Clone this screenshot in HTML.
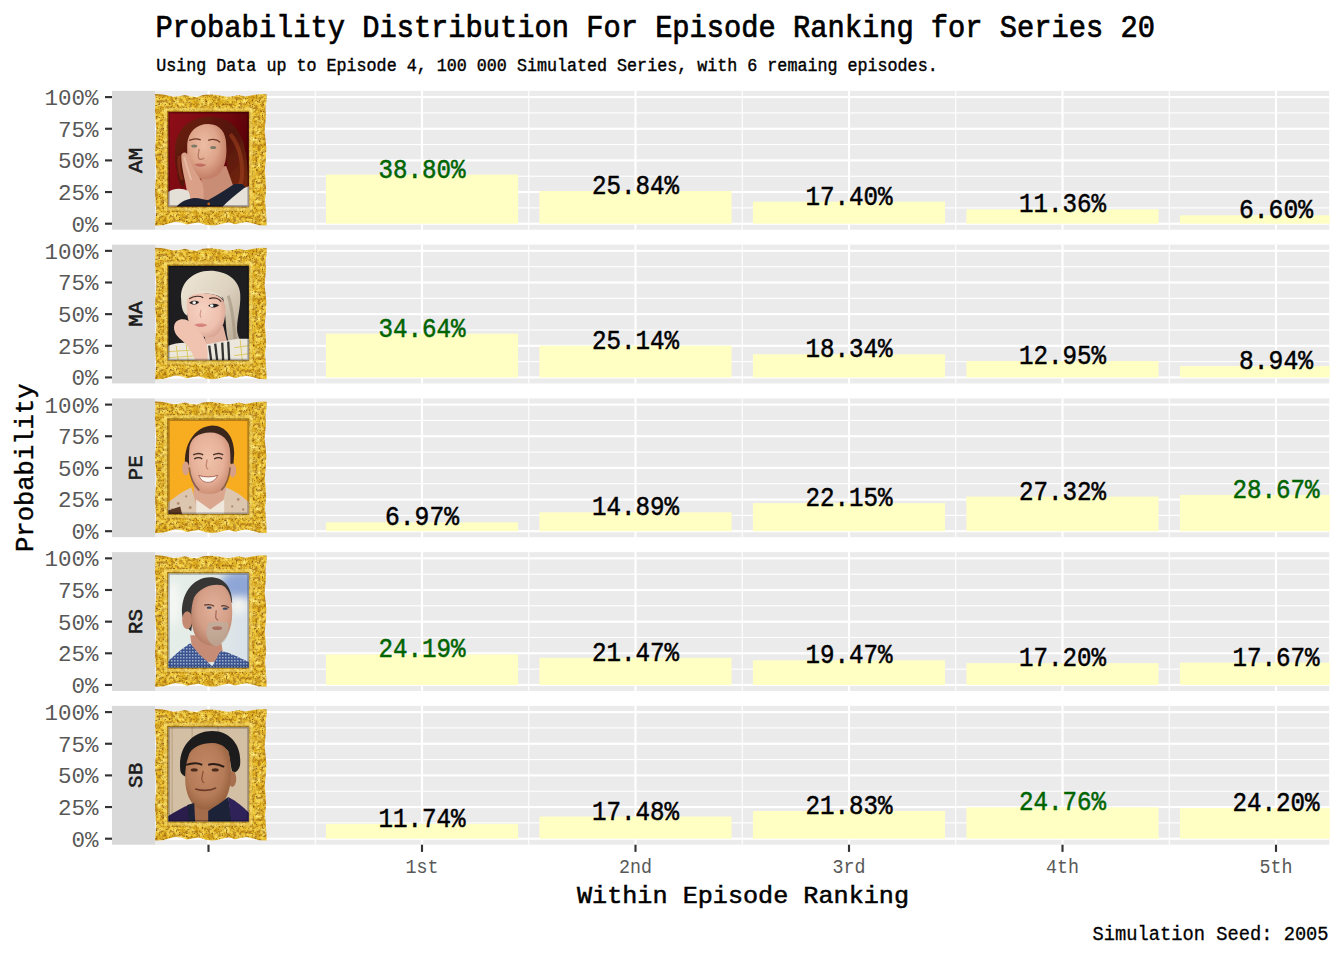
<!DOCTYPE html><html><head><meta charset="utf-8"><title>Probability Distribution For Episode Ranking for Series 20</title>
<style>html,body{margin:0;padding:0;background:#fff;overflow:hidden;}svg{display:block;} text{font-family:"Liberation Mono",monospace;}</style></head><body>
<svg width="1344" height="960" viewBox="0 0 1344 960">
<defs>
<filter id="bl05" x="-30%" y="-30%" width="160%" height="160%"><feGaussianBlur stdDeviation="0.45"/></filter>
<filter id="bl1" x="-30%" y="-30%" width="160%" height="160%"><feGaussianBlur stdDeviation="0.7"/></filter>
<filter id="bl2" x="-30%" y="-30%" width="160%" height="160%"><feGaussianBlur stdDeviation="1.5"/></filter>
<filter id="bl4" x="-50%" y="-50%" width="200%" height="200%"><feGaussianBlur stdDeviation="4"/></filter>
<filter id="goldtex" x="0" y="0" width="1" height="1" color-interpolation-filters="sRGB">
<feTurbulence type="fractalNoise" baseFrequency="0.16" numOctaves="3" seed="11" result="n1"/>
<feColorMatrix in="n1" type="matrix" values="1 0 0 0 0  1 0 0 0 0  1 0 0 0 0  0 0 0 0 1" result="g1"/>
<feComponentTransfer in="g1" result="base">
<feFuncR type="table" tableValues="0.78 0.87 0.93 0.97 1.0 1.0"/>
<feFuncG type="table" tableValues="0.56 0.67 0.76 0.84 0.91 0.96"/>
<feFuncB type="table" tableValues="0.07 0.11 0.18 0.3 0.45 0.62"/>
</feComponentTransfer>
<feTurbulence type="fractalNoise" baseFrequency="0.32" numOctaves="2" seed="5" result="n2"/>
<feColorMatrix in="n2" type="matrix" values="0 0 0 0 0.66  0 0 0 0 0.44  0 0 0 0 0.08  1 0 0 0 0" result="a2"/>
<feComponentTransfer in="a2" result="specks">
<feFuncA type="table" tableValues="0 0 0 0 0.2 0.55 0.8 0.9 0.95"/>
</feComponentTransfer>
<feTurbulence type="fractalNoise" baseFrequency="0.7" numOctaves="1" seed="9" result="n3"/>
<feColorMatrix in="n3" type="matrix" values="0 0 0 0 0.38  0 0 0 0 0.22  0 0 0 0 0.03  1 0 0 0 0" result="a3"/>
<feComponentTransfer in="a3" result="dots">
<feFuncA type="table" tableValues="0 0 0 0 0 0.1 0.6 0.9 1"/>
</feComponentTransfer>
<feMerge result="m"><feMergeNode in="base"/><feMergeNode in="specks"/><feMergeNode in="dots"/></feMerge>
<feComposite in="m" in2="SourceGraphic" operator="in"/>
</filter>
<clipPath id="pc"><rect x="0" y="0" width="80.6" height="94.7"/></clipPath>
</defs>
<rect x="0" y="0" width="1344" height="960" fill="#ffffff"/>
<text x="155.4" y="36.9" font-size="30.5" fill="#000" stroke="#000" stroke-width="0.7" textLength="999.5" lengthAdjust="spacingAndGlyphs">Probability Distribution For Episode Ranking for Series 20</text>
<text x="156.2" y="71.4" font-size="17.5" fill="#000" stroke="#000" stroke-width="0.4" textLength="781.5" lengthAdjust="spacingAndGlyphs">Using Data up to Episode 4, 100 000 Simulated Series, with 6 remaing episodes.</text>
<rect x="155.0" y="90.90" width="1174.20" height="138.8" fill="#ebebeb"/>
<rect x="112.0" y="90.90" width="43.00" height="138.8" fill="#d9d9d9"/>
<rect x="155.0" y="207.33" width="1174.20" height="1.1" fill="#fff"/>
<rect x="155.0" y="175.68" width="1174.20" height="1.1" fill="#fff"/>
<rect x="155.0" y="144.02" width="1174.20" height="1.1" fill="#fff"/>
<rect x="155.0" y="112.38" width="1174.20" height="1.1" fill="#fff"/>
<rect x="314.70" y="90.90" width="1.1" height="138.8" fill="#fff"/>
<rect x="528.20" y="90.90" width="1.1" height="138.8" fill="#fff"/>
<rect x="741.70" y="90.90" width="1.1" height="138.8" fill="#fff"/>
<rect x="955.20" y="90.90" width="1.1" height="138.8" fill="#fff"/>
<rect x="1168.70" y="90.90" width="1.1" height="138.8" fill="#fff"/>
<rect x="155.0" y="222.63" width="1174.20" height="2.14" fill="#fff"/>
<rect x="155.0" y="190.98" width="1174.20" height="2.14" fill="#fff"/>
<rect x="155.0" y="159.33" width="1174.20" height="2.14" fill="#fff"/>
<rect x="155.0" y="127.68" width="1174.20" height="2.14" fill="#fff"/>
<rect x="155.0" y="96.03" width="1174.20" height="2.14" fill="#fff"/>
<rect x="207.43" y="90.90" width="2.14" height="138.8" fill="#fff"/>
<rect x="420.93" y="90.90" width="2.14" height="138.8" fill="#fff"/>
<rect x="634.43" y="90.90" width="2.14" height="138.8" fill="#fff"/>
<rect x="847.93" y="90.90" width="2.14" height="138.8" fill="#fff"/>
<rect x="1061.43" y="90.90" width="2.14" height="138.8" fill="#fff"/>
<rect x="1274.93" y="90.90" width="2.14" height="138.8" fill="#fff"/>
<rect x="325.93" y="174.58" width="192.15" height="49.12" fill="#ffffc4"/>
<rect x="539.42" y="190.99" width="192.15" height="32.71" fill="#ffffc4"/>
<rect x="752.92" y="201.67" width="192.15" height="22.03" fill="#ffffc4"/>
<rect x="966.42" y="209.32" width="192.15" height="14.38" fill="#ffffc4"/>
<rect x="1179.92" y="215.34" width="149.88" height="8.36" fill="#ffffc4"/>
<rect x="105" y="222.63" width="7" height="2.14" fill="#333"/>
<text x="98.6" y="231.60" font-size="22.5" fill="#585858" text-anchor="end">0%</text>
<rect x="105" y="190.98" width="7" height="2.14" fill="#333"/>
<text x="98.6" y="199.95" font-size="22.5" fill="#585858" text-anchor="end">25%</text>
<rect x="105" y="159.33" width="7" height="2.14" fill="#333"/>
<text x="98.6" y="168.30" font-size="22.5" fill="#585858" text-anchor="end">50%</text>
<rect x="105" y="127.68" width="7" height="2.14" fill="#333"/>
<text x="98.6" y="136.65" font-size="22.5" fill="#585858" text-anchor="end">75%</text>
<rect x="105" y="96.03" width="7" height="2.14" fill="#333"/>
<text x="98.6" y="105.00" font-size="22.5" fill="#585858" text-anchor="end">100%</text>
<text x="0" y="0" transform="translate(142.2 160.30) rotate(-90)" font-size="21" fill="#1a1a1a" stroke="#1a1a1a" stroke-width="0.55" text-anchor="middle">AM</text>
<text x="378.50" y="177.58" font-size="27.5" fill="#006400" stroke="#006400" stroke-width="0.5" textLength="87.0" lengthAdjust="spacingAndGlyphs">38.80%</text>
<text x="592.00" y="193.99" font-size="27.5" fill="#000" stroke="#000" stroke-width="0.5" textLength="87.0" lengthAdjust="spacingAndGlyphs">25.84%</text>
<text x="805.50" y="204.67" font-size="27.5" fill="#000" stroke="#000" stroke-width="0.5" textLength="87.0" lengthAdjust="spacingAndGlyphs">17.40%</text>
<text x="1019.00" y="212.32" font-size="27.5" fill="#000" stroke="#000" stroke-width="0.5" textLength="87.0" lengthAdjust="spacingAndGlyphs">11.36%</text>
<text x="1239.00" y="218.34" font-size="27.5" fill="#000" stroke="#000" stroke-width="0.5" textLength="74.0" lengthAdjust="spacingAndGlyphs">6.60%</text>
<rect x="155.0" y="244.65" width="1174.20" height="138.8" fill="#ebebeb"/>
<rect x="112.0" y="244.65" width="43.00" height="138.8" fill="#d9d9d9"/>
<rect x="155.0" y="361.08" width="1174.20" height="1.1" fill="#fff"/>
<rect x="155.0" y="329.43" width="1174.20" height="1.1" fill="#fff"/>
<rect x="155.0" y="297.78" width="1174.20" height="1.1" fill="#fff"/>
<rect x="155.0" y="266.13" width="1174.20" height="1.1" fill="#fff"/>
<rect x="314.70" y="244.65" width="1.1" height="138.8" fill="#fff"/>
<rect x="528.20" y="244.65" width="1.1" height="138.8" fill="#fff"/>
<rect x="741.70" y="244.65" width="1.1" height="138.8" fill="#fff"/>
<rect x="955.20" y="244.65" width="1.1" height="138.8" fill="#fff"/>
<rect x="1168.70" y="244.65" width="1.1" height="138.8" fill="#fff"/>
<rect x="155.0" y="376.38" width="1174.20" height="2.14" fill="#fff"/>
<rect x="155.0" y="344.73" width="1174.20" height="2.14" fill="#fff"/>
<rect x="155.0" y="313.08" width="1174.20" height="2.14" fill="#fff"/>
<rect x="155.0" y="281.43" width="1174.20" height="2.14" fill="#fff"/>
<rect x="155.0" y="249.78" width="1174.20" height="2.14" fill="#fff"/>
<rect x="207.43" y="244.65" width="2.14" height="138.8" fill="#fff"/>
<rect x="420.93" y="244.65" width="2.14" height="138.8" fill="#fff"/>
<rect x="634.43" y="244.65" width="2.14" height="138.8" fill="#fff"/>
<rect x="847.93" y="244.65" width="2.14" height="138.8" fill="#fff"/>
<rect x="1061.43" y="244.65" width="2.14" height="138.8" fill="#fff"/>
<rect x="1274.93" y="244.65" width="2.14" height="138.8" fill="#fff"/>
<rect x="325.93" y="333.60" width="192.15" height="43.85" fill="#ffffc4"/>
<rect x="539.42" y="345.62" width="192.15" height="31.83" fill="#ffffc4"/>
<rect x="752.92" y="354.23" width="192.15" height="23.22" fill="#ffffc4"/>
<rect x="966.42" y="361.06" width="192.15" height="16.39" fill="#ffffc4"/>
<rect x="1179.92" y="366.13" width="149.88" height="11.32" fill="#ffffc4"/>
<rect x="105" y="376.38" width="7" height="2.14" fill="#333"/>
<text x="98.6" y="385.35" font-size="22.5" fill="#585858" text-anchor="end">0%</text>
<rect x="105" y="344.73" width="7" height="2.14" fill="#333"/>
<text x="98.6" y="353.70" font-size="22.5" fill="#585858" text-anchor="end">25%</text>
<rect x="105" y="313.08" width="7" height="2.14" fill="#333"/>
<text x="98.6" y="322.05" font-size="22.5" fill="#585858" text-anchor="end">50%</text>
<rect x="105" y="281.43" width="7" height="2.14" fill="#333"/>
<text x="98.6" y="290.40" font-size="22.5" fill="#585858" text-anchor="end">75%</text>
<rect x="105" y="249.78" width="7" height="2.14" fill="#333"/>
<text x="98.6" y="258.75" font-size="22.5" fill="#585858" text-anchor="end">100%</text>
<text x="0" y="0" transform="translate(142.2 314.05) rotate(-90)" font-size="21" fill="#1a1a1a" stroke="#1a1a1a" stroke-width="0.55" text-anchor="middle">MA</text>
<text x="378.50" y="336.60" font-size="27.5" fill="#006400" stroke="#006400" stroke-width="0.5" textLength="87.0" lengthAdjust="spacingAndGlyphs">34.64%</text>
<text x="592.00" y="348.62" font-size="27.5" fill="#000" stroke="#000" stroke-width="0.5" textLength="87.0" lengthAdjust="spacingAndGlyphs">25.14%</text>
<text x="805.50" y="357.23" font-size="27.5" fill="#000" stroke="#000" stroke-width="0.5" textLength="87.0" lengthAdjust="spacingAndGlyphs">18.34%</text>
<text x="1019.00" y="364.06" font-size="27.5" fill="#000" stroke="#000" stroke-width="0.5" textLength="87.0" lengthAdjust="spacingAndGlyphs">12.95%</text>
<text x="1239.00" y="369.13" font-size="27.5" fill="#000" stroke="#000" stroke-width="0.5" textLength="74.0" lengthAdjust="spacingAndGlyphs">8.94%</text>
<rect x="155.0" y="398.40" width="1174.20" height="138.8" fill="#ebebeb"/>
<rect x="112.0" y="398.40" width="43.00" height="138.8" fill="#d9d9d9"/>
<rect x="155.0" y="514.83" width="1174.20" height="1.1" fill="#fff"/>
<rect x="155.0" y="483.18" width="1174.20" height="1.1" fill="#fff"/>
<rect x="155.0" y="451.53" width="1174.20" height="1.1" fill="#fff"/>
<rect x="155.0" y="419.88" width="1174.20" height="1.1" fill="#fff"/>
<rect x="314.70" y="398.40" width="1.1" height="138.8" fill="#fff"/>
<rect x="528.20" y="398.40" width="1.1" height="138.8" fill="#fff"/>
<rect x="741.70" y="398.40" width="1.1" height="138.8" fill="#fff"/>
<rect x="955.20" y="398.40" width="1.1" height="138.8" fill="#fff"/>
<rect x="1168.70" y="398.40" width="1.1" height="138.8" fill="#fff"/>
<rect x="155.0" y="530.13" width="1174.20" height="2.14" fill="#fff"/>
<rect x="155.0" y="498.48" width="1174.20" height="2.14" fill="#fff"/>
<rect x="155.0" y="466.83" width="1174.20" height="2.14" fill="#fff"/>
<rect x="155.0" y="435.18" width="1174.20" height="2.14" fill="#fff"/>
<rect x="155.0" y="403.53" width="1174.20" height="2.14" fill="#fff"/>
<rect x="207.43" y="398.40" width="2.14" height="138.8" fill="#fff"/>
<rect x="420.93" y="398.40" width="2.14" height="138.8" fill="#fff"/>
<rect x="634.43" y="398.40" width="2.14" height="138.8" fill="#fff"/>
<rect x="847.93" y="398.40" width="2.14" height="138.8" fill="#fff"/>
<rect x="1061.43" y="398.40" width="2.14" height="138.8" fill="#fff"/>
<rect x="1274.93" y="398.40" width="2.14" height="138.8" fill="#fff"/>
<rect x="325.93" y="522.38" width="192.15" height="8.82" fill="#ffffc4"/>
<rect x="539.42" y="512.35" width="192.15" height="18.85" fill="#ffffc4"/>
<rect x="752.92" y="503.16" width="192.15" height="28.04" fill="#ffffc4"/>
<rect x="966.42" y="496.61" width="192.15" height="34.59" fill="#ffffc4"/>
<rect x="1179.92" y="494.90" width="149.88" height="36.30" fill="#ffffc4"/>
<rect x="105" y="530.13" width="7" height="2.14" fill="#333"/>
<text x="98.6" y="539.10" font-size="22.5" fill="#585858" text-anchor="end">0%</text>
<rect x="105" y="498.48" width="7" height="2.14" fill="#333"/>
<text x="98.6" y="507.45" font-size="22.5" fill="#585858" text-anchor="end">25%</text>
<rect x="105" y="466.83" width="7" height="2.14" fill="#333"/>
<text x="98.6" y="475.80" font-size="22.5" fill="#585858" text-anchor="end">50%</text>
<rect x="105" y="435.18" width="7" height="2.14" fill="#333"/>
<text x="98.6" y="444.15" font-size="22.5" fill="#585858" text-anchor="end">75%</text>
<rect x="105" y="403.53" width="7" height="2.14" fill="#333"/>
<text x="98.6" y="412.50" font-size="22.5" fill="#585858" text-anchor="end">100%</text>
<text x="0" y="0" transform="translate(142.2 467.80) rotate(-90)" font-size="21" fill="#1a1a1a" stroke="#1a1a1a" stroke-width="0.55" text-anchor="middle">PE</text>
<text x="385.00" y="525.38" font-size="27.5" fill="#000" stroke="#000" stroke-width="0.5" textLength="74.0" lengthAdjust="spacingAndGlyphs">6.97%</text>
<text x="592.00" y="515.35" font-size="27.5" fill="#000" stroke="#000" stroke-width="0.5" textLength="87.0" lengthAdjust="spacingAndGlyphs">14.89%</text>
<text x="805.50" y="506.16" font-size="27.5" fill="#000" stroke="#000" stroke-width="0.5" textLength="87.0" lengthAdjust="spacingAndGlyphs">22.15%</text>
<text x="1019.00" y="499.61" font-size="27.5" fill="#000" stroke="#000" stroke-width="0.5" textLength="87.0" lengthAdjust="spacingAndGlyphs">27.32%</text>
<text x="1232.50" y="497.90" font-size="27.5" fill="#006400" stroke="#006400" stroke-width="0.5" textLength="87.0" lengthAdjust="spacingAndGlyphs">28.67%</text>
<rect x="155.0" y="552.15" width="1174.20" height="138.8" fill="#ebebeb"/>
<rect x="112.0" y="552.15" width="43.00" height="138.8" fill="#d9d9d9"/>
<rect x="155.0" y="668.58" width="1174.20" height="1.1" fill="#fff"/>
<rect x="155.0" y="636.93" width="1174.20" height="1.1" fill="#fff"/>
<rect x="155.0" y="605.28" width="1174.20" height="1.1" fill="#fff"/>
<rect x="155.0" y="573.63" width="1174.20" height="1.1" fill="#fff"/>
<rect x="314.70" y="552.15" width="1.1" height="138.8" fill="#fff"/>
<rect x="528.20" y="552.15" width="1.1" height="138.8" fill="#fff"/>
<rect x="741.70" y="552.15" width="1.1" height="138.8" fill="#fff"/>
<rect x="955.20" y="552.15" width="1.1" height="138.8" fill="#fff"/>
<rect x="1168.70" y="552.15" width="1.1" height="138.8" fill="#fff"/>
<rect x="155.0" y="683.88" width="1174.20" height="2.14" fill="#fff"/>
<rect x="155.0" y="652.23" width="1174.20" height="2.14" fill="#fff"/>
<rect x="155.0" y="620.58" width="1174.20" height="2.14" fill="#fff"/>
<rect x="155.0" y="588.93" width="1174.20" height="2.14" fill="#fff"/>
<rect x="155.0" y="557.28" width="1174.20" height="2.14" fill="#fff"/>
<rect x="207.43" y="552.15" width="2.14" height="138.8" fill="#fff"/>
<rect x="420.93" y="552.15" width="2.14" height="138.8" fill="#fff"/>
<rect x="634.43" y="552.15" width="2.14" height="138.8" fill="#fff"/>
<rect x="847.93" y="552.15" width="2.14" height="138.8" fill="#fff"/>
<rect x="1061.43" y="552.15" width="2.14" height="138.8" fill="#fff"/>
<rect x="1274.93" y="552.15" width="2.14" height="138.8" fill="#fff"/>
<rect x="325.93" y="654.33" width="192.15" height="30.62" fill="#ffffc4"/>
<rect x="539.42" y="657.77" width="192.15" height="27.18" fill="#ffffc4"/>
<rect x="752.92" y="660.30" width="192.15" height="24.65" fill="#ffffc4"/>
<rect x="966.42" y="663.17" width="192.15" height="21.78" fill="#ffffc4"/>
<rect x="1179.92" y="662.58" width="149.88" height="22.37" fill="#ffffc4"/>
<rect x="105" y="683.88" width="7" height="2.14" fill="#333"/>
<text x="98.6" y="692.85" font-size="22.5" fill="#585858" text-anchor="end">0%</text>
<rect x="105" y="652.23" width="7" height="2.14" fill="#333"/>
<text x="98.6" y="661.20" font-size="22.5" fill="#585858" text-anchor="end">25%</text>
<rect x="105" y="620.58" width="7" height="2.14" fill="#333"/>
<text x="98.6" y="629.55" font-size="22.5" fill="#585858" text-anchor="end">50%</text>
<rect x="105" y="588.93" width="7" height="2.14" fill="#333"/>
<text x="98.6" y="597.90" font-size="22.5" fill="#585858" text-anchor="end">75%</text>
<rect x="105" y="557.28" width="7" height="2.14" fill="#333"/>
<text x="98.6" y="566.25" font-size="22.5" fill="#585858" text-anchor="end">100%</text>
<text x="0" y="0" transform="translate(142.2 621.55) rotate(-90)" font-size="21" fill="#1a1a1a" stroke="#1a1a1a" stroke-width="0.55" text-anchor="middle">RS</text>
<text x="378.50" y="657.33" font-size="27.5" fill="#006400" stroke="#006400" stroke-width="0.5" textLength="87.0" lengthAdjust="spacingAndGlyphs">24.19%</text>
<text x="592.00" y="660.77" font-size="27.5" fill="#000" stroke="#000" stroke-width="0.5" textLength="87.0" lengthAdjust="spacingAndGlyphs">21.47%</text>
<text x="805.50" y="663.30" font-size="27.5" fill="#000" stroke="#000" stroke-width="0.5" textLength="87.0" lengthAdjust="spacingAndGlyphs">19.47%</text>
<text x="1019.00" y="666.17" font-size="27.5" fill="#000" stroke="#000" stroke-width="0.5" textLength="87.0" lengthAdjust="spacingAndGlyphs">17.20%</text>
<text x="1232.50" y="665.58" font-size="27.5" fill="#000" stroke="#000" stroke-width="0.5" textLength="87.0" lengthAdjust="spacingAndGlyphs">17.67%</text>
<rect x="155.0" y="705.90" width="1174.20" height="138.8" fill="#ebebeb"/>
<rect x="112.0" y="705.90" width="43.00" height="138.8" fill="#d9d9d9"/>
<rect x="155.0" y="822.33" width="1174.20" height="1.1" fill="#fff"/>
<rect x="155.0" y="790.68" width="1174.20" height="1.1" fill="#fff"/>
<rect x="155.0" y="759.03" width="1174.20" height="1.1" fill="#fff"/>
<rect x="155.0" y="727.38" width="1174.20" height="1.1" fill="#fff"/>
<rect x="314.70" y="705.90" width="1.1" height="138.8" fill="#fff"/>
<rect x="528.20" y="705.90" width="1.1" height="138.8" fill="#fff"/>
<rect x="741.70" y="705.90" width="1.1" height="138.8" fill="#fff"/>
<rect x="955.20" y="705.90" width="1.1" height="138.8" fill="#fff"/>
<rect x="1168.70" y="705.90" width="1.1" height="138.8" fill="#fff"/>
<rect x="155.0" y="837.63" width="1174.20" height="2.14" fill="#fff"/>
<rect x="155.0" y="805.98" width="1174.20" height="2.14" fill="#fff"/>
<rect x="155.0" y="774.33" width="1174.20" height="2.14" fill="#fff"/>
<rect x="155.0" y="742.68" width="1174.20" height="2.14" fill="#fff"/>
<rect x="155.0" y="711.03" width="1174.20" height="2.14" fill="#fff"/>
<rect x="207.43" y="705.90" width="2.14" height="138.8" fill="#fff"/>
<rect x="420.93" y="705.90" width="2.14" height="138.8" fill="#fff"/>
<rect x="634.43" y="705.90" width="2.14" height="138.8" fill="#fff"/>
<rect x="847.93" y="705.90" width="2.14" height="138.8" fill="#fff"/>
<rect x="1061.43" y="705.90" width="2.14" height="138.8" fill="#fff"/>
<rect x="1274.93" y="705.90" width="2.14" height="138.8" fill="#fff"/>
<rect x="325.93" y="823.84" width="192.15" height="14.86" fill="#ffffc4"/>
<rect x="539.42" y="816.57" width="192.15" height="22.13" fill="#ffffc4"/>
<rect x="752.92" y="811.06" width="192.15" height="27.64" fill="#ffffc4"/>
<rect x="966.42" y="807.35" width="192.15" height="31.35" fill="#ffffc4"/>
<rect x="1179.92" y="808.06" width="149.88" height="30.64" fill="#ffffc4"/>
<rect x="105" y="837.63" width="7" height="2.14" fill="#333"/>
<text x="98.6" y="846.60" font-size="22.5" fill="#585858" text-anchor="end">0%</text>
<rect x="105" y="805.98" width="7" height="2.14" fill="#333"/>
<text x="98.6" y="814.95" font-size="22.5" fill="#585858" text-anchor="end">25%</text>
<rect x="105" y="774.33" width="7" height="2.14" fill="#333"/>
<text x="98.6" y="783.30" font-size="22.5" fill="#585858" text-anchor="end">50%</text>
<rect x="105" y="742.68" width="7" height="2.14" fill="#333"/>
<text x="98.6" y="751.65" font-size="22.5" fill="#585858" text-anchor="end">75%</text>
<rect x="105" y="711.03" width="7" height="2.14" fill="#333"/>
<text x="98.6" y="720.00" font-size="22.5" fill="#585858" text-anchor="end">100%</text>
<text x="0" y="0" transform="translate(142.2 775.30) rotate(-90)" font-size="21" fill="#1a1a1a" stroke="#1a1a1a" stroke-width="0.55" text-anchor="middle">SB</text>
<text x="378.50" y="826.84" font-size="27.5" fill="#000" stroke="#000" stroke-width="0.5" textLength="87.0" lengthAdjust="spacingAndGlyphs">11.74%</text>
<text x="592.00" y="819.57" font-size="27.5" fill="#000" stroke="#000" stroke-width="0.5" textLength="87.0" lengthAdjust="spacingAndGlyphs">17.48%</text>
<text x="805.50" y="814.06" font-size="27.5" fill="#000" stroke="#000" stroke-width="0.5" textLength="87.0" lengthAdjust="spacingAndGlyphs">21.83%</text>
<text x="1019.00" y="810.35" font-size="27.5" fill="#006400" stroke="#006400" stroke-width="0.5" textLength="87.0" lengthAdjust="spacingAndGlyphs">24.76%</text>
<text x="1232.50" y="811.06" font-size="27.5" fill="#000" stroke="#000" stroke-width="0.5" textLength="87.0" lengthAdjust="spacingAndGlyphs">24.20%</text>
<g transform="translate(155 94.10)">
<path d="M0.0 0.0 L6.0 0.2 L12.0 1.2 L18.0 2.6 L24.0 2.2 L30.0 1.0 L36.0 2.4 L42.0 2.8 L48.0 1.0 L54.0 0.3 L60.0 0.6 L66.0 1.6 L72.0 2.6 L78.0 2.2 L84.0 1.0 L90.0 2.4 L96.0 1.4 L102.0 0.3 L108.0 0.0 L111.6 0.2 L111.6 6.0 L110.4 14.0 L111.0 22.0 L110.2 30.0 L109.6 38.0 L110.6 46.0 L111.4 56.0 L110.8 66.0 L109.8 76.0 L110.6 86.0 L111.2 96.0 L110.0 106.0 L110.8 116.0 L111.4 124.0 L111.6 131.5 L104.0 131.1 L98.0 129.3 L92.0 127.9 L86.0 128.7 L80.0 130.1 L74.0 128.1 L68.0 129.3 L62.0 130.9 L56.0 131.3 L50.0 130.3 L44.0 128.5 L38.0 129.1 L32.0 130.5 L26.0 128.3 L20.0 127.7 L14.0 129.5 L8.0 131.1 L0.0 131.5 L0.6 124.0 L1.2 116.0 L0.4 106.0 L0.0 96.0 L0.8 86.0 L1.4 76.0 L0.6 66.0 L0.0 56.0 L0.8 46.0 L1.4 36.0 L0.6 26.0 L0.0 16.0 L0.4 6.0 Z" fill="#d8ac30" filter="url(#goldtex)"/>
<rect x="10.6" y="15.2" width="85.2" height="99.9" fill="none" stroke="#f6dc70" stroke-width="3.2" opacity="0.5"/>
<rect x="12.7" y="17.3" width="81" height="95.5" fill="none" stroke="#7a5008" stroke-width="1.2" opacity="0.55"/>
</g>
<g transform="translate(168.2 111.90)" clip-path="url(#pc)">

<defs>
<linearGradient id="amBg" x1="0" y1="0" x2="1" y2="0.4"><stop offset="0" stop-color="#900e18"/><stop offset="0.6" stop-color="#74080f"/><stop offset="1" stop-color="#560007"/></linearGradient>
<radialGradient id="amFace" cx="0.42" cy="0.38" r="0.6"><stop offset="0" stop-color="#ecbda4"/><stop offset="0.6" stop-color="#dea58a"/><stop offset="1" stop-color="#c48068"/></radialGradient>
<linearGradient id="amHair" x1="0" y1="0" x2="1" y2="1"><stop offset="0" stop-color="#6e200e"/><stop offset="0.5" stop-color="#521409"/><stop offset="1" stop-color="#7a2a12"/></linearGradient>
</defs>
<rect x="0" y="0" width="81" height="95" fill="url(#amBg)"/>
<g filter="url(#bl1)">
<path d="M7 40 C6 30 10 18 20 11 C30 4 46 3 58 8 C68 13 74 24 76 34 C79 46 80 58 80 70 L79 80 L62 80 C60 70 60 58 58 46 L57 28 C50 16 32 14 24 24 L20 40 C19 52 18 64 15 76 C11 72 9 66 9 60 C7 54 6 46 7 40 Z" fill="url(#amHair)"/>
<path d="M62 22 C70 32 74 46 74 60 C74 68 72 74 70 78" stroke="#a4421e" stroke-width="4" fill="none" opacity="0.55"/>
<path d="M11 44 C10 52 11 60 14 68" stroke="#9a3a1a" stroke-width="3" fill="none" opacity="0.5"/>
<path d="M33 58 L58 54 L65 74 L42 94 L33 90 Z" fill="#c98c74"/>
<path d="M19 32 C20 20 28 12 40 12 C52 12 58 21 58 33 C59 45 57 55 51 62 C46 67 37 69 31 66 C24 62 20 52 19 42 Z" fill="url(#amFace)"/>
<path d="M13 43 C15 39 19 40 21 45 C23 53 27 60 32 67 C36 73 36 82 35 89 L34 95 L22 95 C20 88 19 80 17 70 C15 61 13 52 13 43 Z" fill="#daa088"/>
<path d="M16 45 C18 52 20 60 23 68" stroke="#eec4ac" stroke-width="2" fill="none" opacity="0.7"/>
<path d="M0 80 C6 76 14 76 20 79 C23 84 22 90 20 95 L0 95 Z" fill="#e4e0d8"/>
<path d="M8 95 C12 90 18 87 26 86 C32 86 36 88 40 88 C50 83 58 77 66 72 L74 72 L78 76 C70 82 62 88 56 95 Z" fill="#1b2133"/>
<path d="M54 95 C60 89 68 82 76 76 L81 74 L81 95 Z" fill="#e6e2da"/>
</g>
<circle cx="40.5" cy="92" r="1.3" fill="#c0601c"/>
<g filter="url(#bl05)">
<path d="M21 28.5 C25 26.5 29 26.5 32.5 28" stroke="#6a3626" stroke-width="1.3" fill="none"/>
<path d="M40 28.5 C44 27 49 27.5 52 30.5" stroke="#6a3626" stroke-width="1.3" fill="none"/>
<ellipse cx="26" cy="34" rx="3" ry="1.5" fill="#7e7a68"/>
<ellipse cx="45" cy="35.5" rx="3" ry="1.5" fill="#7e7a68"/>
<path d="M31 37 C30 42 29 45 31 47 C33 48 35 47 36 46" stroke="#b27660" stroke-width="1.2" fill="none"/>
<path d="M26 52.5 C30 51 35 51.5 38 53 C35 55.5 30 55.5 26 52.5 Z" fill="#c26e64"/>
</g>

<path d="M0 0 H80.6 V94.7 H0 Z" fill="none" stroke="#000" stroke-width="3" opacity="0.28" filter="url(#bl1)"/>
</g>
<g transform="translate(155 247.85)">
<path d="M0.0 0.0 L6.0 0.2 L12.0 1.2 L18.0 2.6 L24.0 2.2 L30.0 1.0 L36.0 2.4 L42.0 2.8 L48.0 1.0 L54.0 0.3 L60.0 0.6 L66.0 1.6 L72.0 2.6 L78.0 2.2 L84.0 1.0 L90.0 2.4 L96.0 1.4 L102.0 0.3 L108.0 0.0 L111.6 0.2 L111.6 6.0 L110.4 14.0 L111.0 22.0 L110.2 30.0 L109.6 38.0 L110.6 46.0 L111.4 56.0 L110.8 66.0 L109.8 76.0 L110.6 86.0 L111.2 96.0 L110.0 106.0 L110.8 116.0 L111.4 124.0 L111.6 131.5 L104.0 131.1 L98.0 129.3 L92.0 127.9 L86.0 128.7 L80.0 130.1 L74.0 128.1 L68.0 129.3 L62.0 130.9 L56.0 131.3 L50.0 130.3 L44.0 128.5 L38.0 129.1 L32.0 130.5 L26.0 128.3 L20.0 127.7 L14.0 129.5 L8.0 131.1 L0.0 131.5 L0.6 124.0 L1.2 116.0 L0.4 106.0 L0.0 96.0 L0.8 86.0 L1.4 76.0 L0.6 66.0 L0.0 56.0 L0.8 46.0 L1.4 36.0 L0.6 26.0 L0.0 16.0 L0.4 6.0 Z" fill="#d8ac30" filter="url(#goldtex)"/>
<rect x="10.6" y="15.2" width="85.2" height="99.9" fill="none" stroke="#f6dc70" stroke-width="3.2" opacity="0.5"/>
<rect x="12.7" y="17.3" width="81" height="95.5" fill="none" stroke="#7a5008" stroke-width="1.2" opacity="0.55"/>
</g>
<g transform="translate(168.2 265.65)" clip-path="url(#pc)">

<defs>
<radialGradient id="maFace" cx="0.4" cy="0.4" r="0.65"><stop offset="0" stop-color="#f6d2c2"/><stop offset="0.7" stop-color="#eec0ae"/><stop offset="1" stop-color="#d8a494"/></radialGradient>
<linearGradient id="maHair" x1="0" y1="0" x2="1" y2="1"><stop offset="0" stop-color="#efe7d8"/><stop offset="0.5" stop-color="#ddd2bf"/><stop offset="1" stop-color="#b3a590"/></linearGradient>
</defs>
<rect x="0" y="0" width="81" height="95" fill="#1e1e20"/>
<g filter="url(#bl1)">
<path d="M13 34 C11 18 24 5 42 5 C58 5 71 14 72 28 C73 42 68 54 69 66 C70 72 73 76 74 80 L62 80 C58 72 58 60 57 50 L55 32 C46 26 30 28 22 32 L19 50 C15 48 13 42 13 34 Z" fill="url(#maHair)"/>
<path d="M60 30 C65 44 65 58 67 74" stroke="#9a8c78" stroke-width="3" fill="none" opacity="0.55"/>
<path d="M36 64 L55 60 L60 80 L38 84 Z" fill="#e2b2a0"/>
<path d="M19 34 C21 29 28 27 38 28 C48 28 55 31 57 40 C58 53 55 64 47 70 C39 74 29 70 23 62 C19 55 18 44 19 34 Z" fill="url(#maFace)"/>
<path d="M20 30 C30 26 40 26 50 30 L56 34 C50 24 30 22 20 30 Z" fill="#e8dfce"/>
<path d="M0 80 C10 76 22 76 32 80 C42 78 56 75 70 73 L81 73 L81 95 L0 95 Z" fill="#ebe7dd"/>
</g>
<g stroke="#141414" stroke-width="2.3" opacity="0.85"><path d="M41 80 L43 95"/><path d="M47 78 L49 95"/><path d="M54 77 L55 95"/><path d="M60 76 L61 95"/></g>
<g stroke="#d6bd3a" stroke-width="0.9" opacity="0.8" fill="none"><path d="M0 86 L30 84"/><path d="M0 92 L30 90"/><path d="M8 80 L10 95"/><path d="M18 79 L20 95"/><path d="M66 82 L81 80"/><path d="M66 90 L81 88"/><path d="M72 74 L74 95"/></g>
<g filter="url(#bl1)">
<path d="M6 60 C7 54 14 52 20 55 C26 60 32 66 36 72 C40 80 40 90 39 95 L27 95 C25 88 20 80 13 74 C8 70 5 65 6 60 Z" fill="#f0c3b1"/>
</g>
<g filter="url(#bl05)">
<path d="M21 33 C26 30 32 30 35 32" stroke="#3a2a22" stroke-width="1.2" fill="none"/>
<path d="M41 33 C46 31 51 33 53 36" stroke="#3a2a22" stroke-width="1.2" fill="none"/>
<path d="M21 37 C24 34.5 28 34.5 31 36.5 C28 39.5 24 39.5 21 37 Z" fill="#222"/>
<ellipse cx="26" cy="37" rx="1.8" ry="1.4" fill="#f4f4f4"/>
<path d="M40 40 C43 37.5 47 37.5 51 39.5 C47 42.5 43 42.5 40 40 Z" fill="#222"/>
<ellipse cx="43.5" cy="40" rx="1.8" ry="1.4" fill="#f4f4f4"/>
<path d="M33 44 C32 48 31 50 33 52" stroke="#d49a8a" stroke-width="1.2" fill="none"/>
<path d="M26 59 C30 57.5 36 57.5 39 59.5 C35 62 30 62 26 59 Z" fill="#d6847c"/>
</g>

<path d="M0 0 H80.6 V94.7 H0 Z" fill="none" stroke="#000" stroke-width="3" opacity="0.28" filter="url(#bl1)"/>
</g>
<g transform="translate(155 401.60)">
<path d="M0.0 0.0 L6.0 0.2 L12.0 1.2 L18.0 2.6 L24.0 2.2 L30.0 1.0 L36.0 2.4 L42.0 2.8 L48.0 1.0 L54.0 0.3 L60.0 0.6 L66.0 1.6 L72.0 2.6 L78.0 2.2 L84.0 1.0 L90.0 2.4 L96.0 1.4 L102.0 0.3 L108.0 0.0 L111.6 0.2 L111.6 6.0 L110.4 14.0 L111.0 22.0 L110.2 30.0 L109.6 38.0 L110.6 46.0 L111.4 56.0 L110.8 66.0 L109.8 76.0 L110.6 86.0 L111.2 96.0 L110.0 106.0 L110.8 116.0 L111.4 124.0 L111.6 131.5 L104.0 131.1 L98.0 129.3 L92.0 127.9 L86.0 128.7 L80.0 130.1 L74.0 128.1 L68.0 129.3 L62.0 130.9 L56.0 131.3 L50.0 130.3 L44.0 128.5 L38.0 129.1 L32.0 130.5 L26.0 128.3 L20.0 127.7 L14.0 129.5 L8.0 131.1 L0.0 131.5 L0.6 124.0 L1.2 116.0 L0.4 106.0 L0.0 96.0 L0.8 86.0 L1.4 76.0 L0.6 66.0 L0.0 56.0 L0.8 46.0 L1.4 36.0 L0.6 26.0 L0.0 16.0 L0.4 6.0 Z" fill="#d8ac30" filter="url(#goldtex)"/>
<rect x="10.6" y="15.2" width="85.2" height="99.9" fill="none" stroke="#f6dc70" stroke-width="3.2" opacity="0.5"/>
<rect x="12.7" y="17.3" width="81" height="95.5" fill="none" stroke="#7a5008" stroke-width="1.2" opacity="0.55"/>
</g>
<g transform="translate(168.2 419.40)" clip-path="url(#pc)">

<defs>
<radialGradient id="peFace" cx="0.45" cy="0.42" r="0.6"><stop offset="0" stop-color="#f0c2aa"/><stop offset="0.65" stop-color="#e6b098"/><stop offset="1" stop-color="#cc8e74"/></radialGradient>
</defs>
<rect x="0" y="0" width="81" height="95" fill="#f7ad1f"/>
<g filter="url(#bl1)">
<path d="M17 46 C15 26 26 7 44 6 C58 6 66 18 66 34 L65 48 L61 42 L60 24 C52 15 34 15 25 22 L21 46 Z" fill="#3a281f"/>
<ellipse cx="17.5" cy="49" rx="3.5" ry="7" fill="#d8a086"/>
<ellipse cx="64.5" cy="51" rx="3.5" ry="7" fill="#d8a086"/>
<path d="M26 64 L57 62 L60 92 L24 92 Z" fill="#daa68e"/>
<path d="M21 31 C21 19 30 13 42 13 C54 13 62 21 62 33 C63 48 61 62 54 70 C48 76 34 76 28 70 C22 62 20 48 21 31 Z" fill="url(#peFace)"/>
<path d="M21 48 C22 60 26 66 31 71" stroke="#4a3024" stroke-width="1.6" fill="none" opacity="0.55"/>
<path d="M62 48 C61 60 58 66 53 71" stroke="#4a3024" stroke-width="1.6" fill="none" opacity="0.55"/>
<path d="M0 83 C8 76 16 71 23 68 C26 76 28 86 30 95 L0 95 Z" fill="#dcc6b0"/>
<path d="M81 83 C74 76 66 71 58 68 C56 78 54 86 53 95 L81 95 Z" fill="#dcc6b0"/>
<path d="M28 80 L42 90 L56 80 L56 95 L28 95 Z" fill="#efe6dc"/>
</g>
<g fill="#8a5a3a" opacity="0.55" filter="url(#bl05)"><circle cx="10" cy="84" r="1.3"/><circle cx="18" cy="77" r="1.1"/><circle cx="70" cy="80" r="1.3"/><circle cx="64" cy="87" r="1.1"/><circle cx="22" cy="88" r="1.5"/><circle cx="75" cy="90" r="1.2"/><circle cx="4" cy="90" r="1.2"/></g>
<path d="M0 91 L12 87 L14 95 L0 95 Z" fill="#5a3828" filter="url(#bl05)"/>
<g filter="url(#bl05)">
<path d="M25 35.5 C29 33.5 32 33.5 35 35.5" stroke="#4a3028" stroke-width="1.4" fill="none"/>
<path d="M45 35.5 C49 33.5 52 33.5 55 35.5" stroke="#4a3028" stroke-width="1.4" fill="none"/>
<path d="M26 39.5 C29 38 32 38 34 39.5" stroke="#3a2a22" stroke-width="1.3" fill="none"/>
<path d="M46 39.5 C49 38 52 38 54 39.5" stroke="#3a2a22" stroke-width="1.3" fill="none"/>
<path d="M39 40 C38 45 37 48 40 50" stroke="#c0866e" stroke-width="1.3" fill="none"/>
<path d="M30.5 56 C36 58 44 58 49.5 56 C47 61.5 43 63 40 63 C36 63 33 61.5 30.5 56 Z" fill="#fbf6f0" stroke="#9a5448" stroke-width="0.8"/>
</g>

<path d="M0 0 H80.6 V94.7 H0 Z" fill="none" stroke="#000" stroke-width="3" opacity="0.28" filter="url(#bl1)"/>
</g>
<g transform="translate(155 555.35)">
<path d="M0.0 0.0 L6.0 0.2 L12.0 1.2 L18.0 2.6 L24.0 2.2 L30.0 1.0 L36.0 2.4 L42.0 2.8 L48.0 1.0 L54.0 0.3 L60.0 0.6 L66.0 1.6 L72.0 2.6 L78.0 2.2 L84.0 1.0 L90.0 2.4 L96.0 1.4 L102.0 0.3 L108.0 0.0 L111.6 0.2 L111.6 6.0 L110.4 14.0 L111.0 22.0 L110.2 30.0 L109.6 38.0 L110.6 46.0 L111.4 56.0 L110.8 66.0 L109.8 76.0 L110.6 86.0 L111.2 96.0 L110.0 106.0 L110.8 116.0 L111.4 124.0 L111.6 131.5 L104.0 131.1 L98.0 129.3 L92.0 127.9 L86.0 128.7 L80.0 130.1 L74.0 128.1 L68.0 129.3 L62.0 130.9 L56.0 131.3 L50.0 130.3 L44.0 128.5 L38.0 129.1 L32.0 130.5 L26.0 128.3 L20.0 127.7 L14.0 129.5 L8.0 131.1 L0.0 131.5 L0.6 124.0 L1.2 116.0 L0.4 106.0 L0.0 96.0 L0.8 86.0 L1.4 76.0 L0.6 66.0 L0.0 56.0 L0.8 46.0 L1.4 36.0 L0.6 26.0 L0.0 16.0 L0.4 6.0 Z" fill="#d8ac30" filter="url(#goldtex)"/>
<rect x="10.6" y="15.2" width="85.2" height="99.9" fill="none" stroke="#f6dc70" stroke-width="3.2" opacity="0.5"/>
<rect x="12.7" y="17.3" width="81" height="95.5" fill="none" stroke="#7a5008" stroke-width="1.2" opacity="0.55"/>
</g>
<g transform="translate(168.2 573.15)" clip-path="url(#pc)">

<defs>
<radialGradient id="rsFace" cx="0.55" cy="0.4" r="0.6"><stop offset="0" stop-color="#e2b09a"/><stop offset="0.65" stop-color="#d49e86"/><stop offset="1" stop-color="#b88068"/></radialGradient>
<pattern id="rsShirt" width="3" height="3" patternUnits="userSpaceOnUse"><rect width="3" height="3" fill="#2f4a86"/><rect x="0" y="0" width="1.3" height="1.3" fill="#d8e0f0"/><rect x="1.5" y="1.5" width="0.9" height="0.9" fill="#6a84c0"/></pattern>
<linearGradient id="rsBg" x1="0" y1="0" x2="1" y2="0"><stop offset="0" stop-color="#e6eee8"/><stop offset="0.5" stop-color="#e2ebe6"/><stop offset="1" stop-color="#d8e0ea"/></linearGradient>
</defs>
<rect x="0" y="0" width="81" height="95" fill="url(#rsBg)"/>
<ellipse cx="72" cy="12" rx="20" ry="14" fill="#8ea6d6" filter="url(#bl4)"/>
<ellipse cx="70" cy="32" rx="9" ry="8" fill="#f4f4f0" filter="url(#bl4)"/>
<ellipse cx="5" cy="30" rx="7" ry="22" fill="#f6f8f4" filter="url(#bl4)"/>
<g filter="url(#bl1)">
<path d="M14 42 C12 22 24 4 42 4 C56 4 64 14 64 30 L58 24 C48 14 34 14 28 22 L23 58 C18 54 15 48 14 42 Z" fill="#383634"/>
<ellipse cx="19" cy="47" rx="5" ry="9" fill="#c48a72"/>
<path d="M22 62 L52 62 L56 88 L26 90 Z" fill="#c68c74"/>
<path d="M26 24 C32 14 44 10 54 12 C62 16 64 28 64 40 C64 56 58 68 48 72 C38 74 30 68 26 60 C22 50 22 34 26 24 Z" fill="url(#rsFace)"/>
<path d="M40 50 C44 48 56 48 60 50 C62 60 58 70 48 73 C42 72 38 66 38 58 Z" fill="#bcae9e" opacity="0.7"/>
<path d="M0 88 C8 80 16 74 22 70 L30 80 L44 93 L52 78 C60 78 70 84 81 89 L81 95 L0 95 Z" fill="url(#rsShirt)"/>
</g>

<g filter="url(#bl05)">
<ellipse cx="49" cy="55" rx="5" ry="1.8" fill="#a87060"/>
<path d="M36 32 C40 31 43 31 46 33" stroke="#5a3a30" stroke-width="1.2" fill="none"/>
<path d="M53 33 C56 32 59 33 61 35" stroke="#5a3a30" stroke-width="1.2" fill="none"/>
<ellipse cx="41" cy="34.5" rx="2.5" ry="1.2" fill="#3a4a60"/>
<ellipse cx="57" cy="35.5" rx="2.5" ry="1.2" fill="#3a4a60"/>
<path d="M48 37 C48 42 46 46 50 47" stroke="#a06a58" stroke-width="1.2" fill="none"/>
</g>

<path d="M0 0 H80.6 V94.7 H0 Z" fill="none" stroke="#000" stroke-width="3" opacity="0.28" filter="url(#bl1)"/>
</g>
<g transform="translate(155 709.10)">
<path d="M0.0 0.0 L6.0 0.2 L12.0 1.2 L18.0 2.6 L24.0 2.2 L30.0 1.0 L36.0 2.4 L42.0 2.8 L48.0 1.0 L54.0 0.3 L60.0 0.6 L66.0 1.6 L72.0 2.6 L78.0 2.2 L84.0 1.0 L90.0 2.4 L96.0 1.4 L102.0 0.3 L108.0 0.0 L111.6 0.2 L111.6 6.0 L110.4 14.0 L111.0 22.0 L110.2 30.0 L109.6 38.0 L110.6 46.0 L111.4 56.0 L110.8 66.0 L109.8 76.0 L110.6 86.0 L111.2 96.0 L110.0 106.0 L110.8 116.0 L111.4 124.0 L111.6 131.5 L104.0 131.1 L98.0 129.3 L92.0 127.9 L86.0 128.7 L80.0 130.1 L74.0 128.1 L68.0 129.3 L62.0 130.9 L56.0 131.3 L50.0 130.3 L44.0 128.5 L38.0 129.1 L32.0 130.5 L26.0 128.3 L20.0 127.7 L14.0 129.5 L8.0 131.1 L0.0 131.5 L0.6 124.0 L1.2 116.0 L0.4 106.0 L0.0 96.0 L0.8 86.0 L1.4 76.0 L0.6 66.0 L0.0 56.0 L0.8 46.0 L1.4 36.0 L0.6 26.0 L0.0 16.0 L0.4 6.0 Z" fill="#d8ac30" filter="url(#goldtex)"/>
<rect x="10.6" y="15.2" width="85.2" height="99.9" fill="none" stroke="#f6dc70" stroke-width="3.2" opacity="0.5"/>
<rect x="12.7" y="17.3" width="81" height="95.5" fill="none" stroke="#7a5008" stroke-width="1.2" opacity="0.55"/>
</g>
<g transform="translate(168.2 726.90)" clip-path="url(#pc)">

<defs>
<radialGradient id="sbFace" cx="0.45" cy="0.42" r="0.6"><stop offset="0" stop-color="#c48a66"/><stop offset="0.65" stop-color="#b57b58"/><stop offset="1" stop-color="#96603e"/></radialGradient>
</defs>
<rect x="0" y="0" width="81" height="95" fill="#d3bfa3"/>
<g stroke="#bba385" stroke-width="1.5" opacity="0.7"><path d="M4 0 L4 95"/><path d="M24 0 L24 95"/><path d="M50 0 L50 95"/></g>
<g filter="url(#bl1)">
<path d="M12 42 C10 18 26 4 44 4 C62 4 73 18 72 36 C72 42 68 46 64 46 L60 24 C52 16 30 16 22 26 L18 50 C14 48 12 46 12 42 Z" fill="#1d1a1a"/>
<ellipse cx="64" cy="52" rx="4" ry="8" fill="#a87050"/>
<path d="M24 70 L50 70 L44 95 L25 95 Z" fill="#a46c4c"/>
<path d="M20 30 C22 20 34 16 44 16 C54 16 62 22 62 34 C64 50 62 66 56 74 C50 82 40 84 32 82 C22 78 17 66 17 52 C17 42 18 36 20 30 Z" fill="url(#sbFace)"/>
<path d="M0 89 C8 84 15 80 21 78 L23 95 L0 95 Z" fill="#2a1f4c"/>
<path d="M19 78 L26 76 L27 95 L21 95 Z" fill="#1c2038"/>
<path d="M40 84 C46 80 54 75 60 70 L64 95 L40 95 Z" fill="#1c2038"/>
<path d="M81 86 C75 80 68 74 60 70 L63 95 L81 95 Z" fill="#2e2258"/>
</g>
<g filter="url(#bl05)">
<path d="M18 38 C24 36 30 36 34 38" stroke="#2a1a14" stroke-width="2" fill="none"/>
<path d="M40 38 C46 36 50 37 56 40" stroke="#2a1a14" stroke-width="2" fill="none"/>
<ellipse cx="26" cy="43" rx="3.5" ry="1.6" fill="#4a2a1e"/>
<ellipse cx="47" cy="43" rx="3.5" ry="1.6" fill="#4a2a1e"/>
<path d="M35 44 C34 50 32 54 36 56" stroke="#8a5438" stroke-width="1.3" fill="none"/>
<path d="M27 62 C34 64 42 64 48 61" stroke="#6a3a2a" stroke-width="1.6" fill="none"/>
</g>

<path d="M0 0 H80.6 V94.7 H0 Z" fill="none" stroke="#000" stroke-width="3" opacity="0.28" filter="url(#bl1)"/>
</g>
<rect x="207.43" y="844.70" width="2.14" height="7.2" fill="#333"/>
<rect x="420.93" y="844.70" width="2.14" height="7.2" fill="#333"/>
<rect x="634.43" y="844.70" width="2.14" height="7.2" fill="#333"/>
<rect x="847.93" y="844.70" width="2.14" height="7.2" fill="#333"/>
<rect x="1061.43" y="844.70" width="2.14" height="7.2" fill="#333"/>
<rect x="1274.93" y="844.70" width="2.14" height="7.2" fill="#333"/>
<text x="405.50" y="873.4" font-size="21" fill="#585858" textLength="33" lengthAdjust="spacingAndGlyphs">1st</text>
<text x="619.00" y="873.4" font-size="21" fill="#585858" textLength="33" lengthAdjust="spacingAndGlyphs">2nd</text>
<text x="832.50" y="873.4" font-size="21" fill="#585858" textLength="33" lengthAdjust="spacingAndGlyphs">3rd</text>
<text x="1046.00" y="873.4" font-size="21" fill="#585858" textLength="33" lengthAdjust="spacingAndGlyphs">4th</text>
<text x="1259.50" y="873.4" font-size="21" fill="#585858" textLength="33" lengthAdjust="spacingAndGlyphs">5th</text>
<text x="577" y="903.1" font-size="24" fill="#000" stroke="#000" stroke-width="0.5" textLength="332" lengthAdjust="spacingAndGlyphs">Within Episode Ranking</text>
<text x="-84" y="0" transform="translate(33.3 468) rotate(-90)" font-size="25" fill="#000" stroke="#000" stroke-width="0.4" textLength="168.5" lengthAdjust="spacingAndGlyphs">Probability</text>
<text x="1092.6" y="939.6" font-size="20" fill="#000" stroke="#000" stroke-width="0.3" textLength="236" lengthAdjust="spacingAndGlyphs">Simulation Seed: 2005</text>
</svg></body></html>
